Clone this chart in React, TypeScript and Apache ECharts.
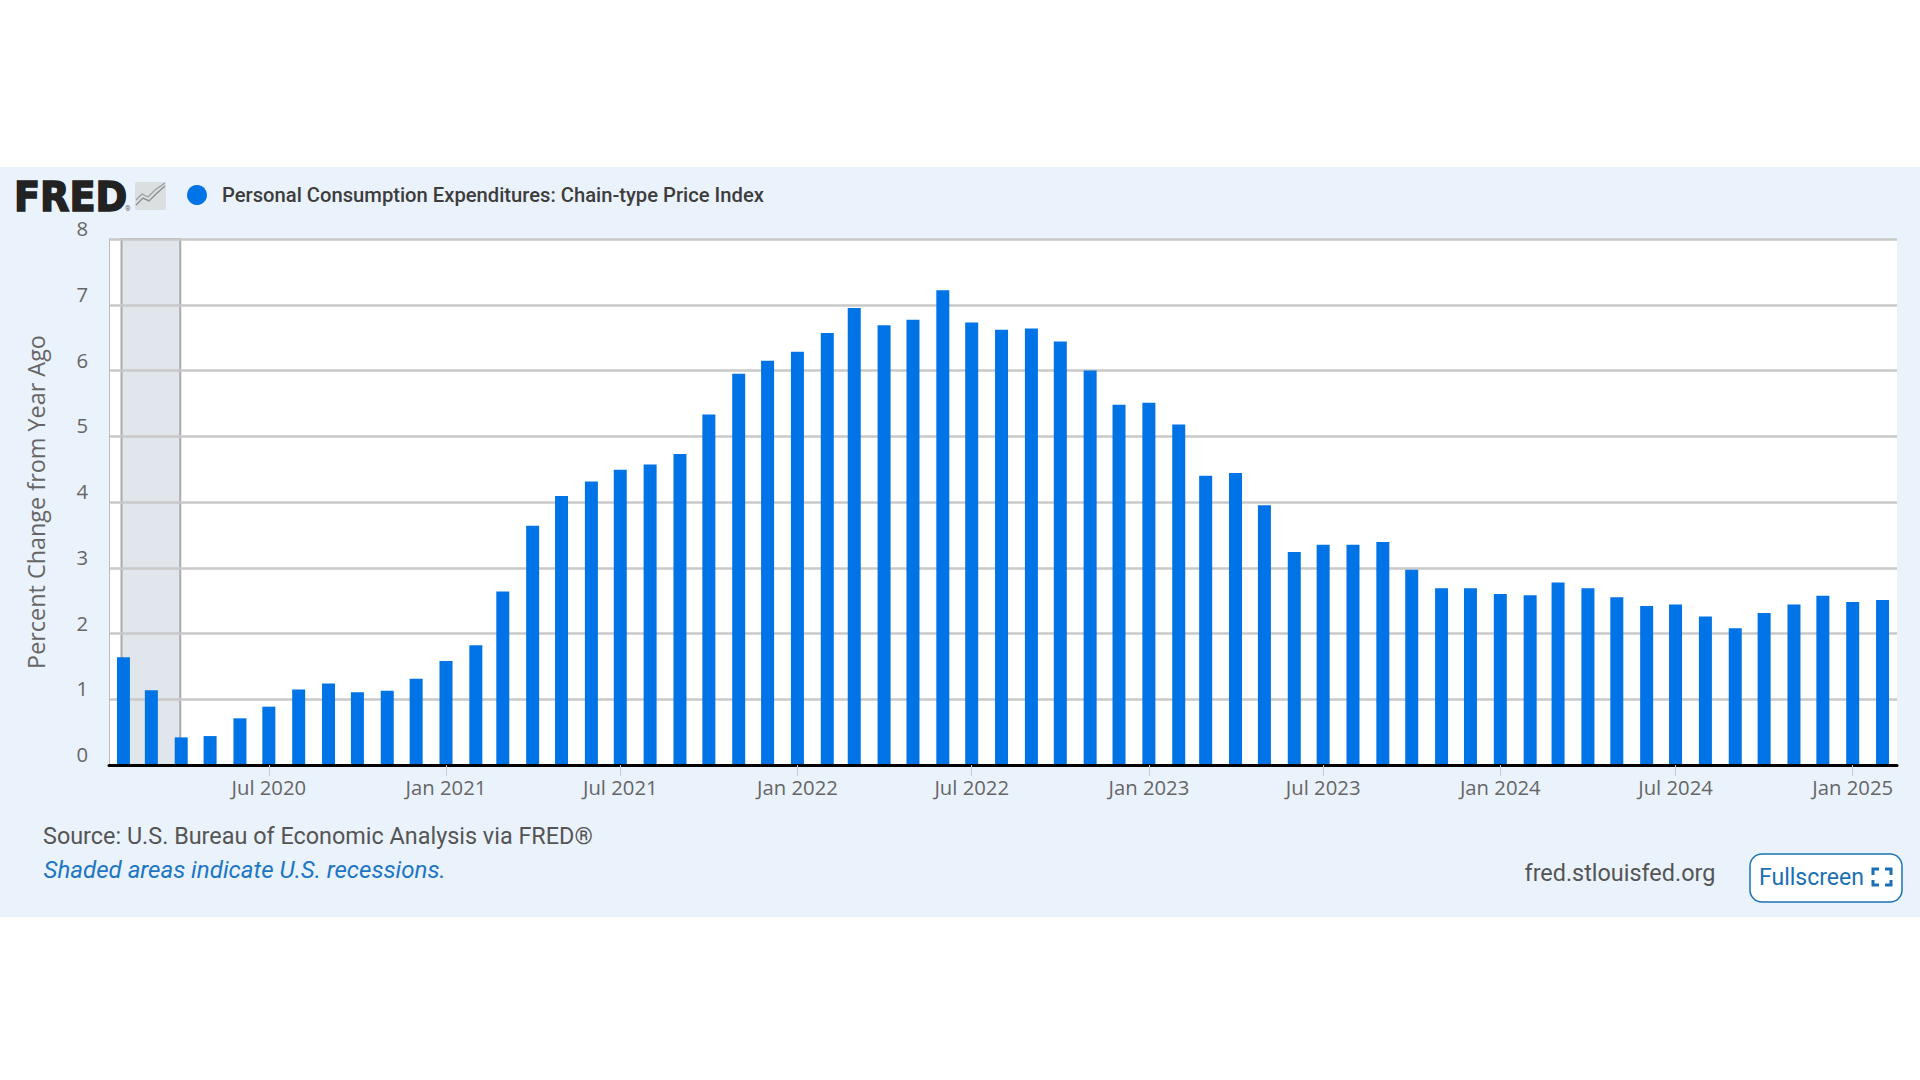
import React, { useEffect, useRef } from "react";
import * as echarts from "echarts";

const seriesName = "Personal Consumption Expenditures: Chain-type Price Index";
const axisTitle = "Percent Change from Year Ago";

const months = [
  "2020-02-01","2020-03-01","2020-04-01","2020-05-01","2020-06-01","2020-07-01","2020-08-01","2020-09-01","2020-10-01","2020-11-01","2020-12-01",
  "2021-01-01","2021-02-01","2021-03-01","2021-04-01","2021-05-01","2021-06-01","2021-07-01","2021-08-01","2021-09-01","2021-10-01","2021-11-01","2021-12-01",
  "2022-01-01","2022-02-01","2022-03-01","2022-04-01","2022-05-01","2022-06-01","2022-07-01","2022-08-01","2022-09-01","2022-10-01","2022-11-01","2022-12-01",
  "2023-01-01","2023-02-01","2023-03-01","2023-04-01","2023-05-01","2023-06-01","2023-07-01","2023-08-01","2023-09-01","2023-10-01","2023-11-01","2023-12-01",
  "2024-01-01","2024-02-01","2024-03-01","2024-04-01","2024-05-01","2024-06-01","2024-07-01","2024-08-01","2024-09-01","2024-10-01","2024-11-01","2024-12-01",
  "2025-01-01","2025-02-01",
];

const values = [
  1.64,1.135,0.42,0.44,0.71,0.887,1.15,1.24,1.105,1.13,1.31,
  1.58,1.82,2.64,3.64,4.09,4.31,4.49,4.57,4.73,5.33,5.95,6.15,
  6.285,6.57,6.95,6.69,6.77,7.22,6.73,6.62,6.64,6.44,6.0,5.48,
  5.51,5.18,4.40,4.44,3.95,3.24,3.35,3.35,3.39,2.97,2.69,2.69,
  2.60,2.58,2.775,2.69,2.55,2.42,2.44,2.26,2.08,2.31,2.44,2.575,
  2.48,2.51,
];

const tickDates = ["2020-07-01","2021-01-01","2021-07-01","2022-01-01","2022-07-01","2023-01-01","2023-07-01","2024-01-01","2024-07-01","2025-01-01"];
const tickLabels = ["Jul 2020","Jan 2021","Jul 2021","Jan 2022","Jul 2022","Jan 2023","Jul 2023","Jan 2024","Jul 2024","Jan 2025"];

const axisStart = "2020-01-17";
const axisEnd = "2025-02-16";
const recession = ["2020-01-30", "2020-03-31"];

const ts = (s: string) => new Date(s).getTime();

export default function App() {
  const ref = useRef<HTMLDivElement>(null);

  useEffect(() => {
    const chart = echarts.init(ref.current!, undefined, { renderer: "svg" });
    const tickTimes = tickDates.map(ts);
    const BLUE = "#0073e6";
    const LINK = "#1c76c4";

    const bracket = (points: number[][]) => ({
      type: "polyline",
      shape: { points },
      style: { stroke: "#1a6fb5", lineWidth: 3, fill: "none" },
      silent: true,
    });

    chart.setOption({
      animation: false,
      grid: {
        show: true,
        left: 109,
        top: 239,
        width: 1788,
        height: 526,
        backgroundColor: "#ffffff",
        borderWidth: 0,
        containLabel: false,
      },
      legend: {
        left: 182,
        top: 180,
        icon: "circle",
        itemWidth: 20,
        itemHeight: 20,
        selectedMode: false,
        data: [seriesName],
        textStyle: {
          fontFamily: "Roboto",
          fontWeight: 500,
          fontSize: 20.2,
          color: "#3d3d3d",
          padding: [0, 0, 0, 10],
        },
      },
      xAxis: {
        type: "value",
        min: ts(axisStart),
        max: ts(axisEnd),
        scale: true,
        z: 3,
        splitLine: { show: false },
        axisLine: { show: true, onZero: false, lineStyle: { color: "#000000", width: 3 } },
        axisTick: {
          show: true,
          length: 11,
          customValues: tickTimes,
          lineStyle: { color: "#cccccc", width: 1 },
        },
        axisLabel: {
          show: true,
          customValues: tickTimes,
          margin: 11.5,
          fontFamily: "Open Sans",
          fontSize: 20.3,
          color: "#666666",
          hideOverlap: false,
          showMinLabel: true,
          showMaxLabel: true,
          formatter: (v: number) => tickLabels[tickTimes.indexOf(v)] ?? "",
        },
      },
      yAxis: {
        type: "value",
        min: 0,
        max: 8,
        interval: 1,
        z: 1.5,
        name: axisTitle,
        nameLocation: "middle",
        nameGap: 62,
        nameTextStyle: { fontFamily: "Open Sans", fontSize: 23.4, color: "#666666" },
        axisLine: { show: true, lineStyle: { color: "#bbbbbb", width: 1 } },
        axisTick: { show: false },
        splitLine: { show: true, lineStyle: { color: "#c9c9c9", width: 2.5 } },
        axisLabel: {
          margin: 21,
          fontFamily: "Open Sans",
          fontSize: 20.3,
          color: "#666666",
          verticalAlign: "bottom",
          padding: [0, 0, 1, 0],
        },
      },
      series: [
        {
          name: seriesName,
          type: "bar",
          barWidth: 13,
          itemStyle: { color: BLUE },
          data: months.map((m, i) => [ts(m), values[i]]),
          markArea: {
            silent: true,
            itemStyle: { color: "#e1e5ec", borderColor: "#aaaaaa", borderWidth: 2 },
            data: [[{ xAxis: ts(recession[0]) }, { xAxis: ts(recession[1]) }]],
          },
        },
      ],
      graphic: [
        {
          type: "text",
          x: 14,
          y: 197,
          scaleX: 0.955,
          silent: true,
          style: {
            text: "FRED",
            font: "bold 40px 'DejaVu Sans'",
            fill: "#222222",
            stroke: "#222222",
            lineWidth: 1.6,
            verticalAlign: "middle",
          },
        },
        {
          type: "text",
          x: 125,
          y: 209,
          silent: true,
          style: { text: "®", font: "7px Roboto", fill: "#666666", verticalAlign: "middle" },
        },
        { type: "rect", shape: { x: 135, y: 182, width: 31, height: 28, r: 2 }, style: { fill: "#dcdfe0" }, silent: true },
        {
          type: "polyline",
          shape: { points: [[136, 205], [143, 198], [149, 201], [156, 194], [165, 186]] },
          style: { stroke: "#8a8f92", lineWidth: 1.4, fill: "none" },
          silent: true,
        },
        {
          type: "polyline",
          shape: { points: [[136, 200], [142, 194], [148, 197], [155, 190], [165, 183]] },
          style: { stroke: "#9a9fa2", lineWidth: 1.2, fill: "none" },
          silent: true,
        },
        {
          type: "text",
          x: 43,
          y: 836,
          silent: true,
          style: {
            text: "Source: U.S. Bureau of Economic Analysis via FRED®",
            font: "23.4px Roboto",
            fill: "#555555",
            verticalAlign: "middle",
          },
        },
        {
          type: "text",
          x: 43.5,
          y: 870,
          silent: true,
          style: {
            text: "Shaded areas indicate U.S. recessions.",
            font: "italic 24.1px Roboto",
            fill: LINK,
            verticalAlign: "middle",
          },
        },
        {
          type: "text",
          x: 1524.5,
          y: 873,
          silent: true,
          style: {
            text: "fred.stlouisfed.org",
            font: "23.4px Roboto",
            fill: "#555555",
            verticalAlign: "middle",
          },
        },
        {
          type: "rect",
          shape: { x: 1750, y: 854, width: 152, height: 48, r: 12 },
          style: { fill: "#ffffff", stroke: "#1a73b5", lineWidth: 1.5 },
          silent: true,
        },
        {
          type: "text",
          x: 1759,
          y: 877,
          silent: true,
          style: { text: "Fullscreen", font: "23px Roboto", fill: "#1a6fb5", verticalAlign: "middle" },
        },
        bracket([[1873, 875], [1873, 869], [1879, 869]]),
        bracket([[1885, 869], [1891, 869], [1891, 875]]),
        bracket([[1873, 880], [1873, 885], [1879, 885]]),
        bracket([[1885, 885], [1891, 885], [1891, 880]]),
      ],
    });
    return () => chart.dispose();
  }, []);

  return (
    <div style={{ position: "fixed", left: 0, top: 0, width: 1920, height: 1080, background: "#ffffff", overflow: "hidden" }}>
      <div style={{ position: "absolute", left: 0, top: 166.5, width: 1920, height: 750.5, background: "#eaf2fc" }} />
      <div ref={ref} style={{ position: "absolute", left: 0, top: 0, width: 1920, height: 1080 }} />
    </div>
  );
}
